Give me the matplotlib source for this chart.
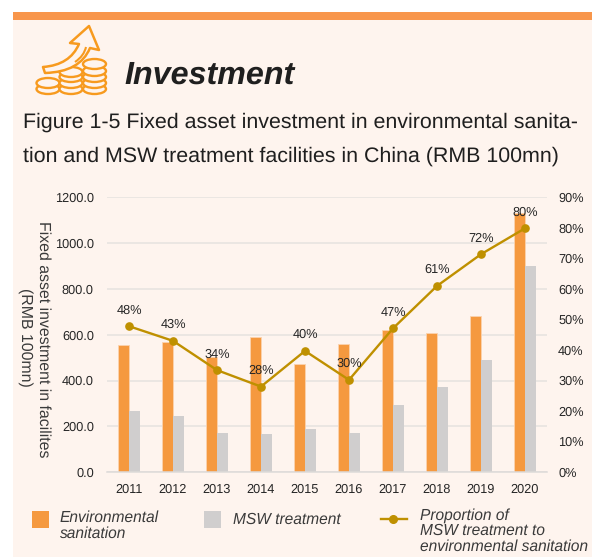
import matplotlib
matplotlib.use("Agg")
import matplotlib.pyplot as plt
from matplotlib.patches import Rectangle, Ellipse, PathPatch
from matplotlib.path import Path

plt.rcParams['font.family'] = ['Liberation Sans', 'DejaVu Sans']
plt.rcParams['text.hinting'] = 'no_hinting'
plt.rcParams['text.hinting_factor'] = 8

years = ['2011', '2012', '2013', '2014', '2015', '2016', '2017', '2018', '2019', '2020']
env_sanitation = [555, 568, 501, 590, 470, 560, 620, 606, 683, 1132]
msw_treatment = [266, 245, 170, 166, 187, 170, 293, 371, 488, 902]
proportion = [47.8, 43.0, 33.4, 28.0, 39.7, 30.2, 47.1, 61.0, 71.4, 79.9]
prop_labels = ['48%', '43%', '34%', '28%', '40%', '30%', '47%', '61%', '72%', '80%']
left_ticks = [0, 200, 400, 600, 800, 1000, 1200]
right_ticks = [0, 10, 20, 30, 40, 50, 60, 70, 80, 90]

W, H = 592, 557
BG = '#FEF4EE'
ORANGE = '#F5993F'
GREY = '#D0CECE'
GOLD = '#BF9000'
ICON = '#F79A1E'
TICK_FS = 9.2

fig = plt.figure(figsize=(W / 100, H / 100), dpi=100, facecolor='white')

# page layer in pixel coordinates
page = fig.add_axes([0, 0, 1, 1], zorder=0)
page.set_xlim(0, W)
page.set_ylim(H, 0)
page.axis('off')
page.add_patch(Rectangle((13, 20), W - 13, H - 20, fc=BG, ec='none'))
page.add_patch(Rectangle((13, 12), W - 13, 8, fc='#F8964B', ec='none'))


def coin(cx, cy, rx=11.5, ry=5):
    page.add_patch(Ellipse((cx, cy), 2 * rx, 2 * ry, fc=BG, ec=ICON, lw=1.7, zorder=3))


for cy in (89, 83):
    coin(48, cy)
for cy in (89, 83, 77, 72):
    coin(71, cy)
for cy in (89, 83, 77, 71, 64):
    coin(94.5, cy)
arrow_verts = [(43, 67), (70, 65), (79, 44), (70, 43), (89, 26), (99, 50), (90, 48), (80, 72), (45, 73), (43, 67)]
arrow_codes = [Path.MOVETO, Path.CURVE3, Path.CURVE3, Path.LINETO, Path.LINETO, Path.LINETO, Path.LINETO,
               Path.CURVE3, Path.CURVE3, Path.CLOSEPOLY]
page.add_patch(PathPatch(Path(arrow_verts, arrow_codes), fc=BG, ec=ICON, lw=1.8, zorder=4, joinstyle='round'))
page.add_patch(PathPatch(Path([(75, 62), (84, 56), (86, 47)], [Path.MOVETO, Path.CURVE3, Path.CURVE3]),
                         fc='none', ec=ICON, lw=1.5, zorder=5))

page.text(124, 75, 'Investment', fontsize=23.2, fontweight='bold', fontstyle='italic',
          color='#1F1F1F', va='center', ha='left')
page.text(23, 122, 'Figure 1-5 Fixed asset investment in environmental sanita-',
          fontsize=15.4, color='#1F1F1F', va='center', ha='left')
page.text(23, 156, 'tion and MSW treatment facilities in China (RMB 100mn)',
          fontsize=15.4, color='#1F1F1F', va='center', ha='left')

# chart
ax = fig.add_axes([107 / W, 1 - 472 / H, 440 / W, 274.5 / H], zorder=2)
ax.patch.set_alpha(0)
x = list(range(len(years)))
w = 0.245
ax.bar([i - w / 2 for i in x], env_sanitation, width=w, color=ORANGE,
       edgecolor='#FBD3AE', linewidth=0.6, zorder=2)
ax.bar([i + w / 2 for i in x], msw_treatment, width=w, color=GREY, zorder=2)
ax.set_xlim(-0.5, 9.5)
ax.set_ylim(0, 1200)
ax.set_xticks(x, years)
ax.set_yticks(left_ticks, [f'{v:.1f}' for v in left_ticks])
ax.tick_params(length=0, labelsize=TICK_FS, labelcolor='#262626', pad=9.5)
ax.tick_params(axis='x', pad=8)
ax.grid(axis='y', color='#E6E2DF', lw=1.1, zorder=0)
ax.set_axisbelow(True)
for s in ax.spines.values():
    s.set_visible(False)
ax.spines['bottom'].set_visible(True)
ax.spines['bottom'].set_color('#DDDAD8')
ax.spines['bottom'].set_linewidth(1.1)

ax2 = ax.twinx()
ax2.patch.set_alpha(0)
ax2.set_ylim(0, 90)
ax2.set_yticks(right_ticks, [f'{v}%' for v in right_ticks])
ax2.tick_params(length=0, labelsize=TICK_FS, labelcolor='#262626', pad=8)
for s in ax2.spines.values():
    s.set_visible(False)
ax2.plot(x, proportion, color=GOLD, lw=1.7, marker='o', ms=5.2, zorder=5)
for xi, p, lab in zip(x, proportion, prop_labels):
    ax2.annotate(lab, (xi, p), xytext=(0, 11.5), textcoords='offset points', ha='center', va='center',
                 fontsize=TICK_FS, color='#262626', zorder=6)

page.text(43, 339, 'Fixed asset investment in facilites', rotation=270,
          fontsize=11.4, color='#3A3A3A', ha='center', va='center')
page.text(25, 337, '(RMB 100mn)', rotation=270,
          fontsize=11.4, color='#3A3A3A', ha='center', va='center')

# legend
LEG_FS = 11.2
page.add_patch(Rectangle((32, 511), 17, 17, fc=ORANGE, ec='none'))
page.text(60, 518, 'Environmental', fontsize=LEG_FS, fontstyle='italic', color='#3A3A3A', ha='left', va='center')
page.text(60, 534, 'sanitation', fontsize=LEG_FS, fontstyle='italic', color='#3A3A3A', ha='left', va='center')
page.add_patch(Rectangle((204, 511), 17, 17, fc=GREY, ec='none'))
page.text(233, 520, 'MSW treatment', fontsize=LEG_FS, fontstyle='italic', color='#3A3A3A', ha='left', va='center')
page.plot([381, 407], [519, 519], color=GOLD, lw=1.7)
page.plot([393], [519], color=GOLD, marker='o', ms=5.5)
for yy, line in zip((516, 531, 547), ('Proportion of', 'MSW treatment to', 'environmental sanitation')):
    page.text(420, yy, line, fontsize=LEG_FS, fontstyle='italic', color='#3A3A3A', ha='left', va='center')
page.set_xlim(0, W)
page.set_ylim(H, 0)

fig.savefig('out.png', dpi=100, facecolor='white')
